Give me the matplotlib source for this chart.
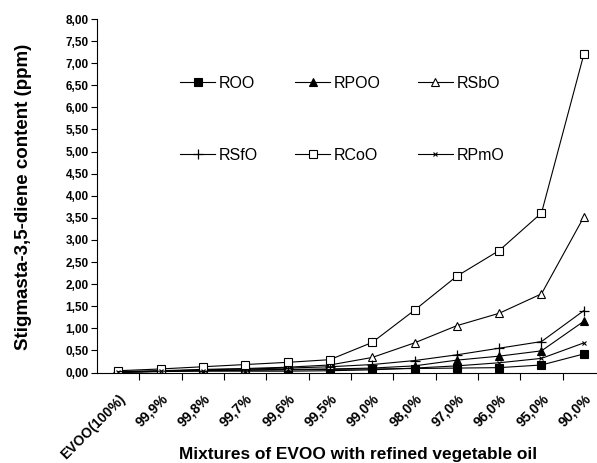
import matplotlib
matplotlib.use("Agg")
import matplotlib.pyplot as plt
import numpy as np

plt.rcParams['font.family'] = ['Liberation Sans', 'DejaVu Sans']

categorias = ["EVOO(100%)", "99,9%", "99,8%", "99,7%", "99,6%", "99,5%",
              "99,0%", "98,0%", "97,0%", "96,0%", "95,0%", "90,0%"]

roo = [0.00, 0.02, 0.04, 0.05, 0.06, 0.07, 0.08, 0.09, 0.10, 0.11, 0.17, 0.42]
rpoo = [0.00, 0.03, 0.05, 0.06, 0.07, 0.08, 0.10, 0.15, 0.28, 0.37, 0.49, 1.16]
rsbo = [0.02, 0.04, 0.07, 0.09, 0.12, 0.17, 0.34, 0.67, 1.06, 1.34, 1.78, 3.52]
rsfo = [0.01, 0.03, 0.06, 0.08, 0.10, 0.13, 0.18, 0.27, 0.40, 0.55, 0.70, 1.40]
rcoo = [0.04, 0.08, 0.13, 0.18, 0.23, 0.29, 0.68, 1.41, 2.18, 2.76, 3.61, 7.20]
rpmo = [0.02, 0.03, 0.03, 0.03, 0.03, 0.04, 0.06, 0.10, 0.15, 0.22, 0.32, 0.67]

fig = plt.figure(figsize=(5.97, 4.63), dpi=100)
# el eje sigue mas alla del borde derecho (la imagen original esta recortada)
ax = fig.add_axes([97 / 597, 1 - 372.5 / 463, 508 / 597, 353.5 / 463])

x = np.arange(len(categorias))
estilo = dict(color='black', lw=0.8, ms=5.5, mec='black', mew=0.8)
l1, = ax.plot(x, roo, marker='s', mfc='black', label='ROO', **estilo)
l2, = ax.plot(x, rpoo, marker='^', mfc='black', label='RPOO', **estilo)
l3, = ax.plot(x, rsbo, marker='^', mfc='white', label='RSbO', **estilo)
l4, = ax.plot(x, rsfo, marker='+', mfc='black', label='RSfO', color='black',
              lw=0.8, ms=7, mew=0.9)
l5, = ax.plot(x, rcoo, marker='s', mfc='white', label='RCoO', **estilo)
l6, = ax.plot(x, rpmo, marker='x', mfc='black', label='RPmO', color='black',
              lw=0.8, ms=3.5, mew=0.8)

ax.set_xlim(-0.5, len(categorias) - 0.5)
ax.set_ylim(0, 8)
yt = np.arange(0, 8.01, 0.5)
ax.set_yticks(yt)
ax.set_yticklabels([f"{v:.2f}".replace('.', ',') for v in yt],
                   fontsize=8.5, fontweight='bold')

# marcas en los limites de cada categoria, etiquetas en el centro
ax.set_xticks(np.arange(0.5, len(categorias) - 0.5, 1))
ax.set_xticklabels([])
ax.set_xticks(x, minor=True)
ax.set_xticklabels(categorias, minor=True, rotation=45, ha='right',
                   rotation_mode='anchor', fontsize=10, fontweight='bold')
ax.tick_params(axis='x', which='major', length=5, width=0.8, direction='out')
ax.tick_params(axis='x', which='minor', length=0, pad=14)
ax.tick_params(axis='y', length=4, width=0.8, pad=2)

for s in ['top', 'right']:
    ax.spines[s].set_visible(False)
for s in ['left', 'bottom']:
    ax.spines[s].set_linewidth(0.8)

fig.text(24 / 597, 1 - 197 / 463, "Stigmasta-3,5-diene content (ppm)", rotation=90,
         ha='center', va='center', fontsize=13.5, fontweight='bold')
fig.text(358 / 597, 1 - 455 / 463, "Mixtures of EVOO with refined vegetable oil",
         ha='center', va='center', fontsize=12.4, fontweight='bold')

# orden por columnas para que las filas queden como en el original
ax.legend([l1, l4, l2, l5, l3, l6], ['ROO', 'RSfO', 'RPOO', 'RCoO', 'RSbO', 'RPmO'],
          loc='upper left', bbox_to_anchor=(172 / 597, 1 - 68 / 463),
          bbox_transform=fig.transFigure, ncol=3, frameon=False,
          fontsize=11.5, handlelength=2.2, handletextpad=0.25,
          columnspacing=2.3, labelspacing=3.55, borderpad=0)

fig.savefig("out.png", dpi=100)
